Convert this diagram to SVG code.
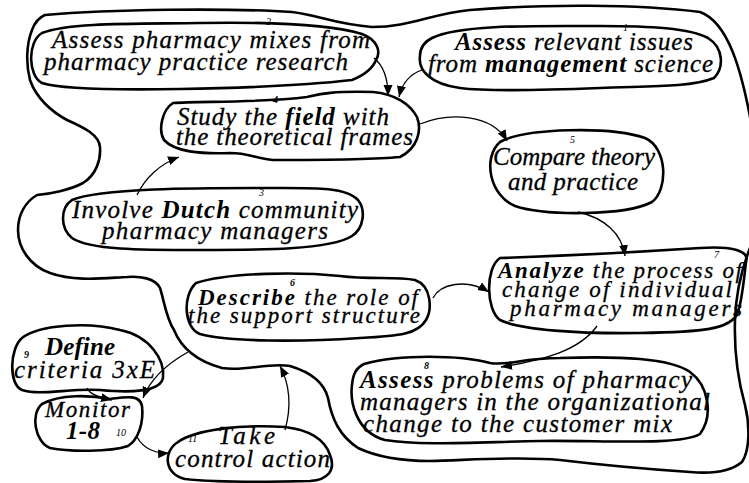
<svg xmlns="http://www.w3.org/2000/svg" width="749" height="483" viewBox="0 0 749 483">
  <style>
    .blob { fill: none; stroke: #000; stroke-width: 2.6; stroke-linejoin: round; }
    .edge { fill: none; stroke: #000; stroke-width: 1.3; }
    .t { font-family: "Liberation Serif", "Times New Roman", serif; font-style: italic; font-size: 25px; fill: #000; stroke: #000; stroke-width: 0.3; }
    .s { font-size: 23px; }
    .b { font-weight: bold; stroke-width: 0; }
    .n { font-family: "Liberation Serif", "Times New Roman", serif; font-style: italic; font-size: 10px; fill: #000; }
  </style>
  <defs>
    <marker id="arrow" markerUnits="userSpaceOnUse" markerWidth="12" markerHeight="10" refX="11" refY="4.5" orient="auto">
      <path d="M0,0 L11,4.5 L0,9 Z" fill="#000"/>
    </marker>
  </defs>

  <rect width="749" height="483" fill="#fff"/>

  <!-- outer boundary around steps 1-8 -->
  <path id="boundary" class="blob" d="M 45,15 C 110,9 230,8 292,12 C 318,15 335,24 372,27 C 410,27 430,14 470,10 C 540,4 640,4 700,12 C 728,22 742,70 752,128 L 760,190 L 752,243 C 744,262 736,290 735,320 C 734,350 738,380 745,405 C 750,425 750,450 742,462 C 730,472 712,474 690,472 C 660,470 610,466 560,460 C 520,456 470,460 430,461 C 400,461 375,456 358,448 C 340,436 332,420 328,398 C 324,382 310,372 290,366 C 268,362 245,372 222,368 C 200,362 182,350 174,330 C 166,318 164,300 160,288 C 155,278 140,276 127,277 C 105,278 75,282 50,273 C 30,266 18,248 18,230 C 18,215 25,202 37,195 C 50,194 70,190 83,183 C 96,175 101,160 100,147 C 99,135 85,128 67,120 C 52,112 36,98 30,80 C 26,65 26,45 32,30 C 35,22 40,17 45,15 Z"/>

  <!-- connectors -->
  <g id="connectors">
    <path class="edge" marker-end="url(#arrow)" d="M 374,58 C 384,66 388,80 388,96"/>
    <path class="edge" marker-end="url(#arrow)" d="M 422,70 C 410,74 402,84 399,97"/>
    <path class="edge" marker-end="url(#arrow)" d="M 420,124 C 450,112 492,114 507,141"/>
    <path class="edge" marker-end="url(#arrow)" d="M 137,195 C 145,178 160,164 179,157"/>
    <path class="edge" marker-end="url(#arrow)" d="M 578,212 C 605,218 622,234 625,256"/>
    <path class="edge" marker-end="url(#arrow)" d="M 433,298 C 440,284 466,278 489,292"/>
    <path class="edge" marker-end="url(#arrow)" d="M 597,326 C 580,350 545,360 501,367"/>
    <path class="edge" marker-end="url(#arrow)" d="M 87,388 C 89,394 99,397 112,400"/>
    <path class="edge" marker-end="url(#arrow)" d="M 188,352 C 165,365 150,380 143,398"/>
    <path class="edge" marker-end="url(#arrow)" d="M 137,437 C 143,448 155,454 169,453"/>
    <path class="edge" marker-end="url(#arrow)" d="M 285,430 C 292,405 290,385 280,366"/>
  </g>

  <g id="node2">
    <path class="blob" d="M 42,33 C 70,22 140,24 200,23 C 260,22 330,24 362,34 C 378,40 381,52 376,60 C 372,70 362,76 352,80 C 300,86 240,88 180,89 C 120,90 60,89 42,83 C 28,76 27,42 42,33 Z"/>
    <text class="n" x="266" y="25">2</text>
    <text class="t" x="52" y="48" textLength="318" lengthAdjust="spacing">Assess pharmacy mixes from</text>
    <text class="t" x="44" y="70" textLength="304" lengthAdjust="spacing">pharmacy practice research</text>
  </g>

  <g id="node1">
    <path class="blob" d="M 432,38 C 460,24 540,26 600,26 C 650,26 690,28 708,38 C 724,48 724,68 714,78 C 690,88 640,86 600,88 C 550,90 490,92 460,88 C 430,84 418,70 420,56 C 420,48 424,42 432,38 Z"/>
    <text class="n" x="623" y="31">1</text>
    <text class="t" x="455" y="50" textLength="238" lengthAdjust="spacing"><tspan class="b">Assess</tspan> relevant issues</text>
    <text class="t" x="428" y="72" textLength="285" lengthAdjust="spacing">from <tspan class="b">management</tspan> science</text>
  </g>

  <g id="node4">
    <path class="blob" d="M 173,103 C 200,101 260,103 307,97 C 320,94 330,91 373,92 C 395,94 410,104 417,117 C 422,130 418,148 400,157 C 370,160 300,160 273,160 C 255,158 248,153 230,153 C 200,154 175,152 164,140 C 158,130 162,110 173,103 Z"/>
    <text class="n b" x="273" y="103">4</text>
    <text class="t" x="177" y="125" textLength="212" lengthAdjust="spacing">Study the <tspan class="b">field</tspan> with</text>
    <text class="t" x="176" y="145" textLength="237" lengthAdjust="spacing">the theoretical frames</text>
  </g>

  <g id="node5">
    <path class="blob" d="M 500,142 C 525,128 610,126 645,138 C 668,148 668,190 652,202 C 625,216 545,216 515,206 C 490,196 482,158 500,142 Z"/>
    <text class="n" x="570" y="143">5</text>
    <text class="t" x="493" y="165" textLength="162" lengthAdjust="spacing">Compare theory</text>
    <text class="t" x="508" y="190" textLength="130" lengthAdjust="spacing">and practice</text>
  </g>

  <g id="node3">
    <path class="blob" d="M 72,200 C 100,188 200,188 260,188 C 310,188 345,186 358,200 C 366,210 364,228 352,236 C 330,250 260,250 200,250 C 140,250 90,250 72,238 C 60,228 60,208 72,200 Z"/>
    <text class="n" x="259" y="196">3</text>
    <text class="t" x="72" y="218" textLength="286" lengthAdjust="spacing">Involve <tspan class="b">Dutch</tspan> community</text>
    <text class="t" x="102" y="239" textLength="226" lengthAdjust="spacing">pharmacy managers</text>
  </g>

  <g id="node6">
    <path class="blob" d="M 196,283 C 230,272 300,272 340,276 C 370,280 395,276 415,280 C 432,286 432,310 426,320 C 418,334 400,336 360,338 C 300,342 230,342 200,334 C 184,328 182,296 196,283 Z"/>
    <text class="n b" x="290" y="286">6</text>
    <text class="t s" x="198" y="305" textLength="220" lengthAdjust="spacing"><tspan class="b">Describe</tspan> the role of</text>
    <text class="t s" x="188" y="323" textLength="232" lengthAdjust="spacing">the support structure</text>
  </g>

  <g id="node7">
    <path class="blob" d="M 500,258 C 560,256 640,252 700,248 C 730,246 750,250 746,262 C 744,280 742,300 738,312 C 732,330 700,332 640,333 C 580,334 520,330 500,320 C 486,310 485,268 500,258 Z"/>
    <text class="n" x="714" y="258">7</text>
    <text class="t s" x="498" y="278" textLength="244" lengthAdjust="spacing"><tspan class="b">Analyze</tspan> the process of</text>
    <text class="t s" x="502" y="297" textLength="230" lengthAdjust="spacing">change of individual</text>
    <text class="t s" x="510" y="316" textLength="232" lengthAdjust="spacing">pharmacy managers</text>
  </g>

  <g id="node8">
    <path class="blob" d="M 364,364 C 400,354 460,355 490,363 C 510,366 520,358 560,358 C 620,356 670,358 690,372 C 708,385 714,415 700,434 C 680,446 600,440 540,441 C 480,442 420,446 385,440 C 355,432 350,400 352,385 C 353,374 356,368 364,364 Z"/>
    <text class="n b" x="424" y="369">8</text>
    <text class="t" x="360" y="388" textLength="332" lengthAdjust="spacing"><tspan class="b">Assess</tspan> problems of pharmacy</text>
    <text class="t" x="360" y="410" textLength="350" lengthAdjust="spacing">managers in the organizational</text>
    <text class="t" x="363" y="432" textLength="309" lengthAdjust="spacing">change to the customer mix</text>
  </g>

  <g id="node9">
    <path class="blob" d="M 22,338 C 40,324 90,322 120,330 C 150,336 165,360 163,378 C 160,392 130,393 100,390 C 70,388 40,396 22,390 C 8,384 10,348 22,338 Z"/>
    <text class="n b" x="24" y="358" font-size="12">9</text>
    <text class="t b" x="45" y="355" textLength="70" lengthAdjust="spacing">Define</text>
    <text class="t" x="14" y="378" textLength="141" lengthAdjust="spacing">criteria 3xE</text>
  </g>

  <g id="node10">
    <path class="blob" d="M 42,404 C 60,394 90,395 110,399 C 125,397 140,394 142,406 C 144,423 138,440 128,446 C 110,452 70,452 50,448 C 35,442 30,414 42,404 Z"/>
    <text class="t s" x="45" y="417" textLength="85" lengthAdjust="spacing">Monitor</text>
    <text class="t b" x="66" y="439" textLength="34" lengthAdjust="spacing">1-8</text>
    <text class="n" x="116" y="436">10</text>
  </g>

  <g id="node11">
    <path class="blob" d="M 178,442 C 195,430 240,424 285,427 C 310,430 325,440 330,455 C 336,470 328,480 310,481 C 270,482 220,483 185,479 C 165,475 162,452 178,442 Z"/>
    <text class="n" x="188" y="442">11</text>
    <text class="t" x="218" y="444" textLength="57" lengthAdjust="spacing">Take</text>
    <text class="t" x="175" y="467" textLength="155" lengthAdjust="spacing">control action</text>
  </g>
</svg>
